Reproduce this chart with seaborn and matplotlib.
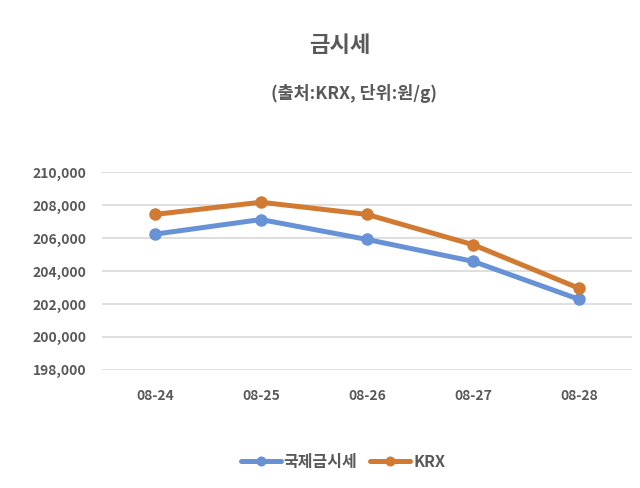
import pandas as pd
import seaborn as sns
import matplotlib.pyplot as plt
from matplotlib.ticker import FuncFormatter

dates = ['08-24', '08-25', '08-26', '08-27', '08-28']
intl_price = [206240, 207130, 205920, 204590, 202280]
krx_price = [207440, 208180, 207440, 205600, 202950]
series_names = ['국제금시세', 'KRX']
y_ticks = [198000, 200000, 202000, 204000, 206000, 208000, 210000]

df = pd.DataFrame({
    'date': dates * 2,
    'price': intl_price + krx_price,
    'series': [series_names[0]] * len(dates) + [series_names[1]] * len(dates),
})

sns.set_theme(style='white')
plt.rcParams['font.family'] = ['Noto Sans CJK KR', 'DejaVu Sans']
plt.rcParams['font.weight'] = 'bold'

text_color = '#595959'
palette = {'국제금시세': '#6792D6', 'KRX': '#D27A32'}

fig = plt.figure(figsize=(6.4, 4.88), dpi=100)
ax = fig.add_axes([0.159, 0.242, 0.829, 0.405])

sns.lineplot(data=df, x='date', y='price', hue='series', palette=palette,
             marker='o', markersize=9, markeredgewidth=0, linewidth=3.6,
             sort=False, ax=ax)

ax.set_xlim(-0.5, len(dates) - 0.5)
ax.set_ylim(y_ticks[0], y_ticks[-1])
ax.set_yticks(y_ticks)
ax.yaxis.set_major_formatter(FuncFormatter(lambda v, p: f'{int(v):,}'))
ax.grid(axis='y', color='#d9d9d9', linewidth=1.2)
ax.set_axisbelow(True)
for s in ax.spines.values():
    s.set_visible(False)
ax.tick_params(axis='both', length=0, labelsize=10, colors=text_color, pad=14)
ax.tick_params(axis='y', pad=11)
ax.set_xlabel('')
ax.set_ylabel('')
for lab in ax.get_xticklabels() + ax.get_yticklabels():
    lab.set_fontweight('bold')

fig.text(0.531, 0.907, '금시세', ha='center', va='center', fontsize=16,
         color=text_color, fontweight='bold')
fig.text(0.553, 0.808, '(출처:KRX, 단위:원/g)', ha='center', va='center',
         fontsize=12.5, color=text_color, fontweight='bold')

handles, labels = ax.get_legend_handles_labels()
ax.legend(handles, labels, loc='center', bbox_to_anchor=(0.536, 0.054),
          bbox_transform=fig.transFigure, ncol=2, frameon=False,
          fontsize=11.5, labelcolor=text_color, handlelength=2.5,
          columnspacing=0.8, handletextpad=0.2, markerscale=0.8)

fig.savefig('out.png', dpi=100, facecolor='white')
